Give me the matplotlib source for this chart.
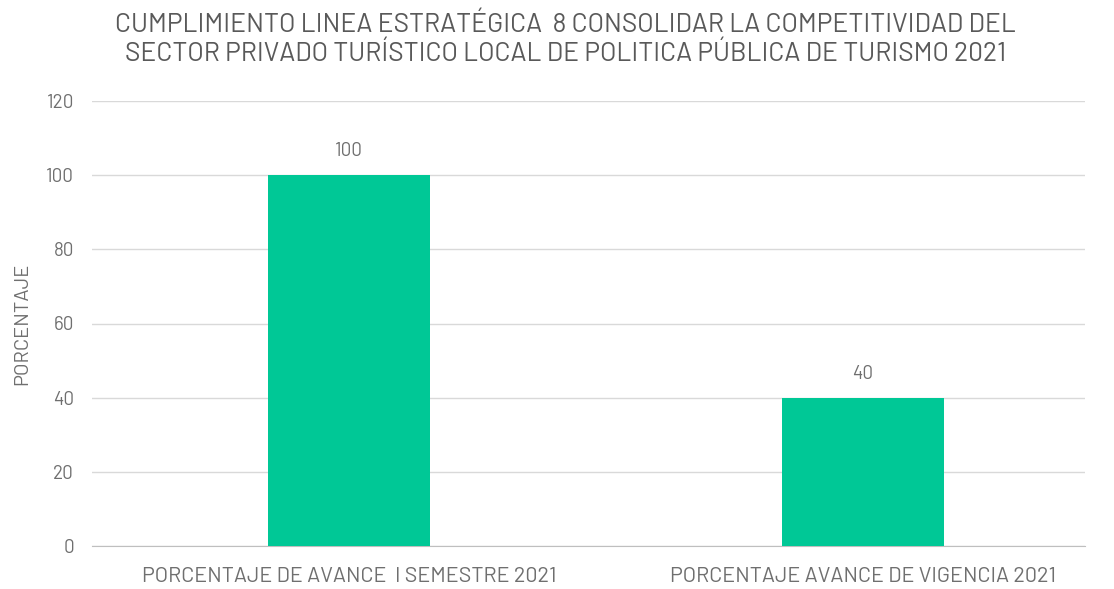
import matplotlib
matplotlib.use("Agg")
import matplotlib.pyplot as plt
from matplotlib import font_manager as fm

categories = ["PORCENTAJE DE AVANCE  I SEMESTRE 2021", "PORCENTAJE AVANCE DE VIGENCIA 2021"]
values = [100, 40]
yticks = [0, 20, 40, 60, 80, 100, 120]
title = ("CUMPLIMIENTO LINEA ESTRATÉGICA  8 CONSOLIDAR LA COMPETITIVIDAD DEL\n"
         "SECTOR PRIVADO TURÍSTICO LOCAL DE POLITICA PÚBLICA DE TURISMO 2021")

installed = {f.name for f in fm.fontManager.ttflist}
candidates = ["Barlow", "Barlow Semi Condensed", "Rajdhani", "DejaVu Sans"]
font = next(c for c in candidates if c in installed)
plt.rcParams['font.family'] = [font, 'DejaVu Sans']

grey = "#595959"
lgrey = "#6f6f6f"
bar_color = "#00C896"

fig = plt.figure(figsize=(11.14, 5.89), dpi=100)
ax = fig.add_axes([92/1114, 1-546/589, (1085-92)/1114, (546-101)/589])

x = list(range(len(categories)))
ax.bar(x, values, width=0.315, color=bar_color, zorder=3)
for xi, v in zip(x, values):
    ax.text(xi, v + 4.0, f"{v}", ha="center", va="bottom", fontsize=13.5, color=lgrey)

ax.set_ylim(0, 120)
ax.set_xlim(-0.5, 1.432)
ax.set_yticks(yticks)
ax.set_yticklabels([str(t) for t in yticks], fontsize=13.5, color=lgrey)
ax.set_xticks(x)
ax.set_xticklabels(categories, fontsize=15.5, color=lgrey)
ax.tick_params(axis='both', length=0)
ax.tick_params(axis='y', pad=13)
ax.tick_params(axis='x', pad=15)
ax.grid(axis='y', color="#d9d9d9", linewidth=1, zorder=0)
for s in ["top", "right", "left"]:
    ax.spines[s].set_visible(False)
ax.spines["bottom"].set_color("#bfbfbf")
ax.set_ylabel("PORCENTAJE", fontsize=14.5, color=lgrey, labelpad=11)

fig.text(0.508, 0.979, title, ha="center", va="top", fontsize=19, color=grey, linespacing=1.25)

fig.savefig("out.png", dpi=100)
